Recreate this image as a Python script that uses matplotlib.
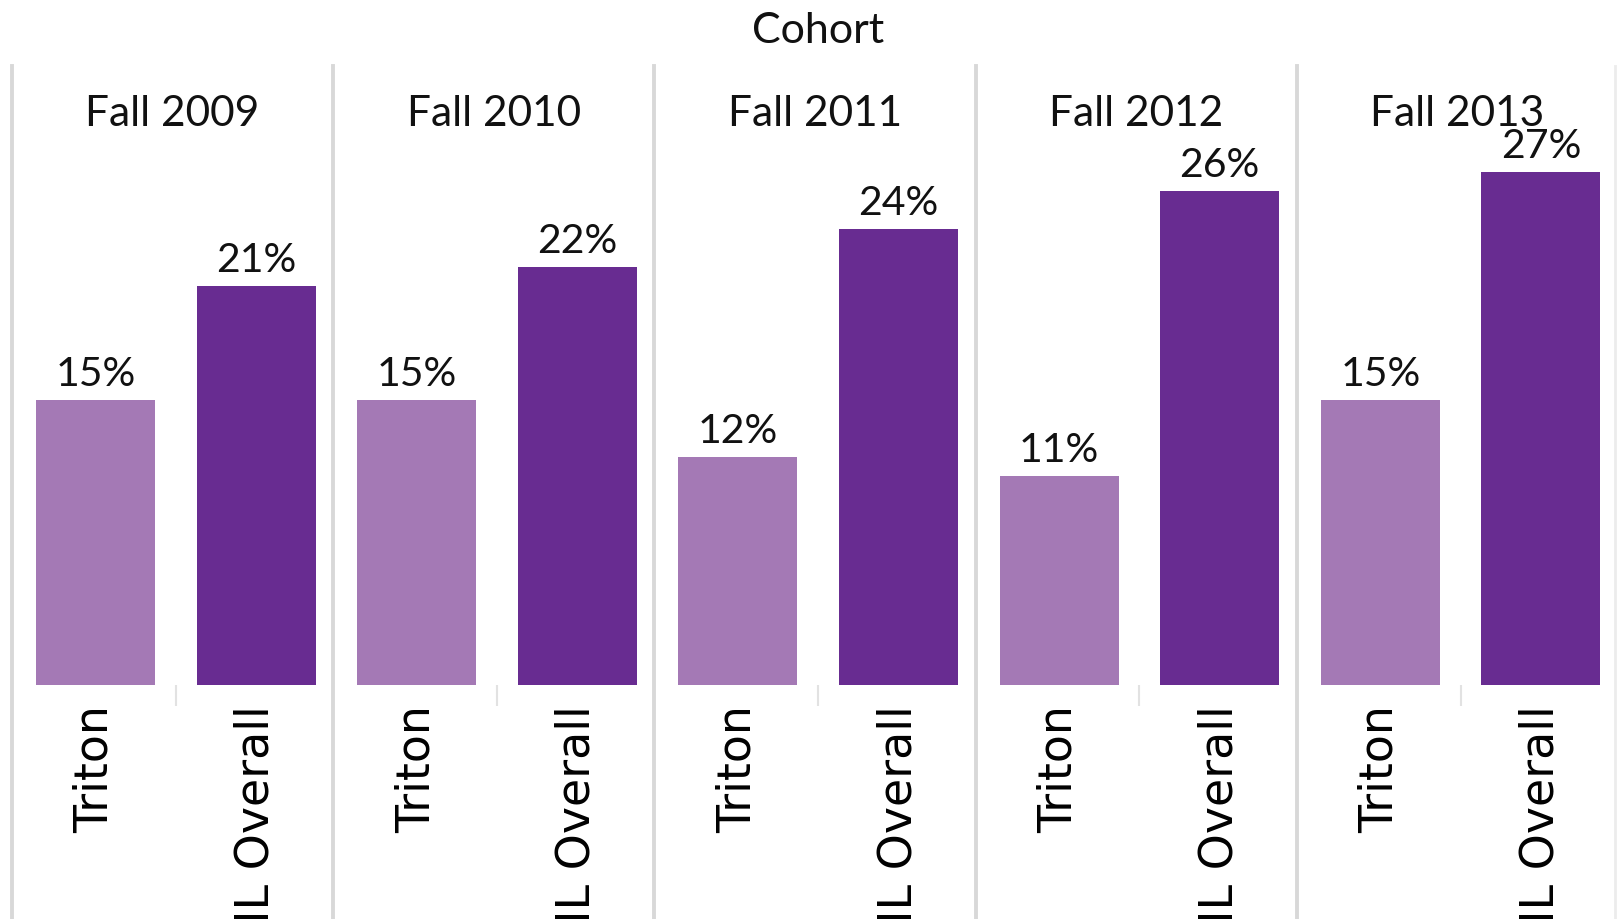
import matplotlib
matplotlib.use("Agg")
import matplotlib.pyplot as plt
from matplotlib.lines import Line2D

plt.rcParams['font.family'] = ['Lato', 'DejaVu Sans']

# chart data
cohorts = ['Fall 2009', 'Fall 2010', 'Fall 2011', 'Fall 2012', 'Fall 2013']
groups = ['Triton', 'IL Overall']
triton = [15, 15, 12, 11, 15]
il_overall = [21, 22, 24, 26, 27]

light = '#A479B5'
dark = '#682C91'
grid_grey = '#D8D8D8'

W, H = 1618, 920
fig = plt.figure(figsize=(W / 100, H / 100), dpi=100)
fig.patch.set_facecolor('white')

left_px, base_px, top_px = 12, 686, 67
axes = fig.subplots(1, len(cohorts), sharey=True)
fig.subplots_adjust(left=left_px / W, right=1.0, bottom=1 - base_px / H,
                    top=1 - top_px / H, wspace=0)

panel_w = (W - left_px) / len(cohorts)

for i, ax in enumerate(axes):
  vals = [triton[i], il_overall[i]]
  ax.bar(range(len(groups)), vals, width=0.74, color=[light, dark])
  ax.set_xlim(-0.52, 1.48)
  ax.set_ylim(0, 32.6)
  for s in ax.spines.values():
    s.set_visible(False)
  ax.set_yticks([])
  ax.set_xticks(range(len(groups)))
  ax.set_xticklabels(groups, rotation=90, fontsize=33,
                     family=['DejaVu Sans'])
  ax.tick_params(axis='x', length=0, pad=14)
  ax.set_xticks([0.5], minor=True)
  ax.tick_params(axis='x', which='minor', length=15, width=1.5,
                 color='#E2E2E2', direction='out')

  for x, v in enumerate(vals):
    ax.annotate(f'{v}%', (x, v), xytext=(0, 11), textcoords='offset points',
                ha='center', va='baseline', fontsize=29.5, color='#111111')

  # panel header
  cx = (left_px + panel_w * (i + 0.5)) / W
  fig.text(cx, 1 - 126 / H, cohorts[i], ha='center', va='baseline',
           fontsize=30.5, color='#111111')

  # divider line on the left of each panel
  x0 = (left_px + panel_w * i) / W
  fig.add_artist(Line2D([x0, x0], [0, 1 - top_px / H], transform=fig.transFigure,
                        color=grid_grey, lw=2.8))

# faint border on the far right
fig.add_artist(Line2D([1615 / W, 1615 / W], [0, 1 - top_px / H],
                      transform=fig.transFigure, color='#ECECEC', lw=2))

fig.text(818 / W, 1 - 43 / H, 'Cohort', ha='center', va='baseline',
         fontsize=31, color='#111111')

fig.savefig('out.png', dpi=100)
